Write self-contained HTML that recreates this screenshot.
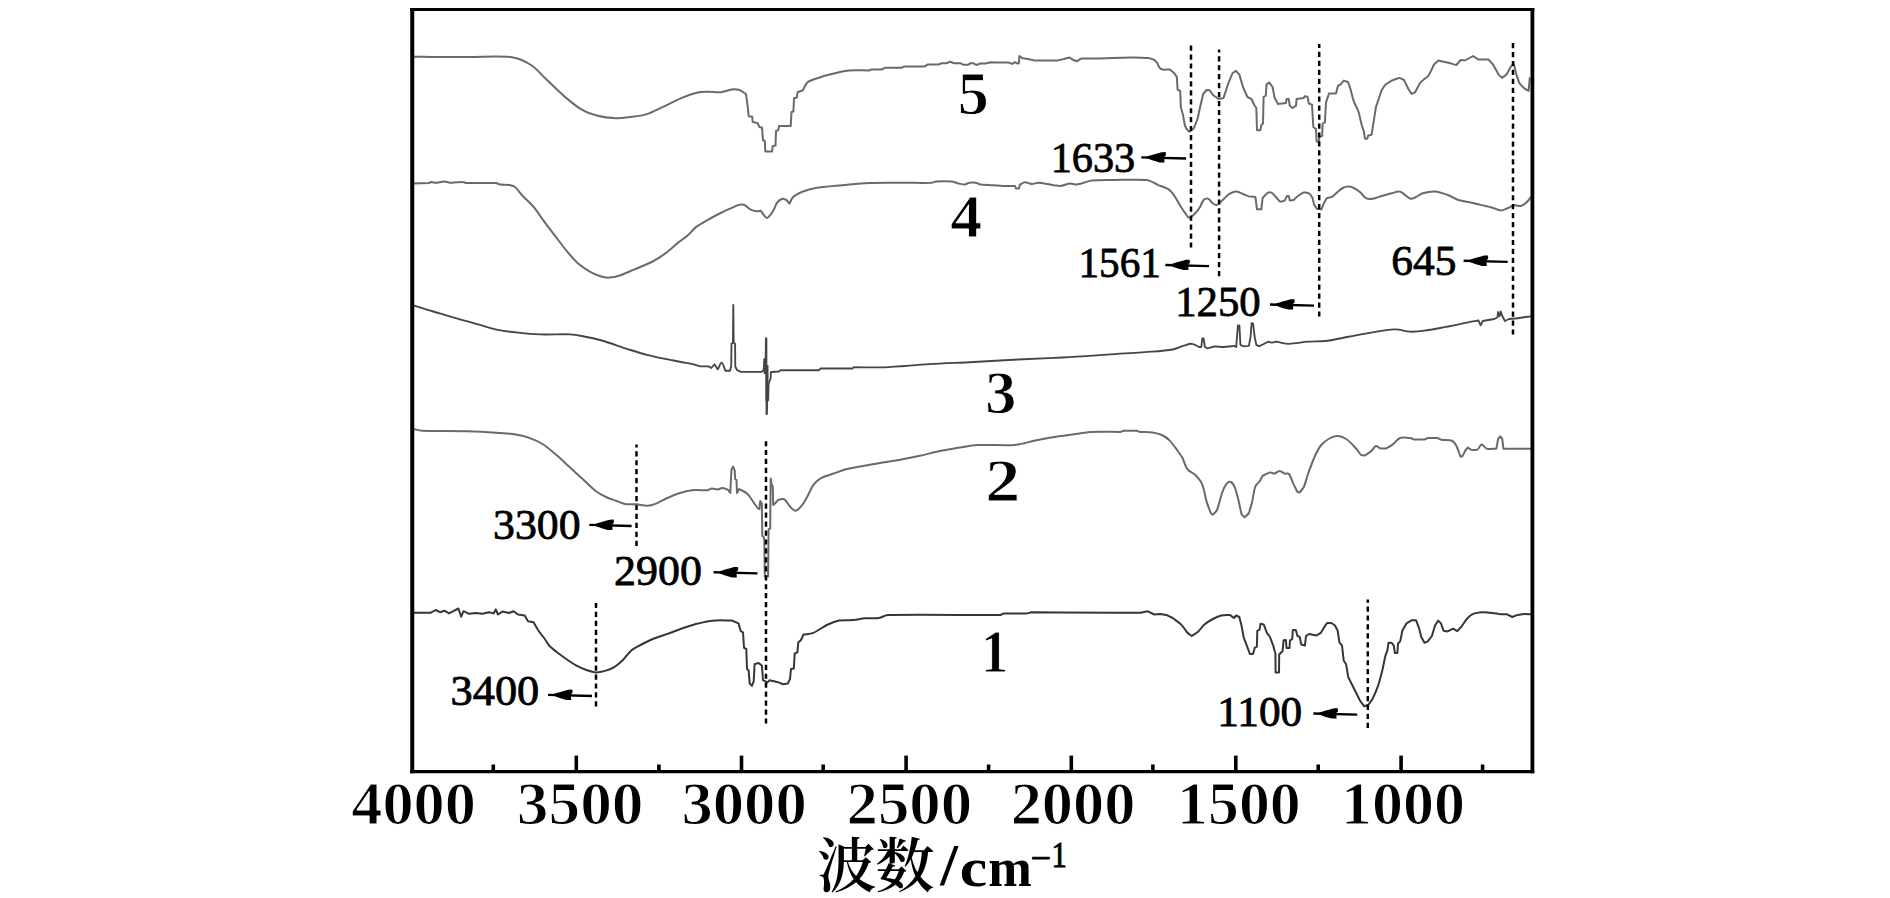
<!DOCTYPE html>
<html lang="zh"><head><meta charset="utf-8"><title>FTIR</title>
<style>html,body{margin:0;padding:0;background:#fff;}body{width:1890px;height:898px;overflow:hidden;}svg{display:block;}</style>
</head><body>
<svg width="1890" height="898" viewBox="0 0 1890 898">
<rect x="0" y="0" width="1890" height="898" fill="#fff"/>
<path id="c5" d="M413.4,56.7C422.3,56.8 431.1,57.0 440.0,57.0C449.4,57.0 460.0,56.9 470.0,56.9C482.0,56.9 501.8,55.9 512.0,57.2C518.8,58.1 525.3,61.3 531.0,65.0C536.8,68.8 541.7,75.0 547.0,80.0C552.8,85.4 559.9,92.6 565.7,97.5C570.8,101.8 576.4,106.6 581.7,109.6C586.7,112.4 592.4,114.3 597.8,115.7C603.0,117.1 608.5,117.9 613.8,118.1C619.1,118.3 624.5,117.6 629.8,117.0C635.1,116.4 640.7,116.0 645.9,114.4C651.2,112.8 656.6,109.9 661.9,107.4C667.7,104.7 674.8,100.8 680.6,98.3C685.8,96.1 692.2,93.8 696.6,92.7C700.1,91.8 703.7,91.8 707.3,91.7C711.3,91.6 716.7,92.6 720.7,92.2C724.4,91.9 728.3,89.9 731.4,89.5C734.1,89.2 737.0,89.2 739.4,90.0C741.8,90.8 743.8,92.7 746.0,94.0L747.4,104.2L748.7,116.2L752.2,116.8L752.7,122.0L757.5,123.0L759.4,127.0L762.0,127.7L763.0,140.3L764.8,141.0L765.3,151.5L772.0,151.5L772.8,146.0L775.5,145.6L776.0,131.0L778.2,130.4L779.0,126.0C782.9,126.0 786.8,126.0 790.7,126.0L791.5,112.0L793.4,111.6L794.0,98.3L796.8,97.5L797.6,92.2L802.9,90.2C804.4,87.6 805.0,84.4 807.3,82.5C809.8,80.5 814.3,79.3 818.0,78.0C821.9,76.6 826.5,75.4 830.8,74.3C835.9,73.0 842.6,71.1 848.6,70.5C855.0,69.9 862.1,70.5 868.9,70.5L871.4,69.5C874.8,69.5 878.2,69.5 881.6,69.5L885.4,67.7C890.9,67.7 896.4,67.7 901.9,67.7L904.4,66.4C911.2,66.4 918.0,66.4 924.8,66.4L927.9,64.4C931.5,64.4 935.1,64.4 938.7,64.4L941.9,63.2L946.3,63.2L950.2,61.8L954.0,63.2L960.3,63.2L963.5,64.8L968.0,64.8L970.5,63.2L973.0,63.2L976.2,65.0L980.6,63.5L985.7,63.5L990.8,62.2L995.9,62.6C1000.1,62.6 1004.4,62.6 1008.6,62.6L1012.4,63.9L1014.9,62.2L1017.5,63.5L1018.9,63.2L1019.3,56.1L1022.6,58.3L1028.0,59.0L1034.9,60.6C1042.3,60.6 1049.6,60.6 1057.0,60.6L1063.8,59.0L1069.4,57.5L1072.7,59.7L1077.0,61.2L1081.6,58.4C1087.5,58.4 1093.5,58.5 1099.4,58.4C1107.6,58.2 1122.4,57.6 1130.6,57.5C1136.5,57.4 1142.5,57.8 1148.4,57.9L1154.0,59.7L1156.7,62.3C1158.1,64.5 1158.8,67.8 1161.0,69.0C1163.2,70.2 1167.0,69.4 1170.0,69.6L1174.3,73.3L1176.8,76.8L1177.6,89.6L1180.2,91.0L1180.8,107.0L1183.0,115.0L1184.8,125.0L1186.3,128.6L1189.0,131.6L1193.7,128.5C1195.0,125.3 1196.2,122.2 1197.5,119.0L1200.4,105.8L1203.2,94.0L1206.5,90.0L1209.7,90.2L1213.0,95.0L1218.5,99.0L1223.5,98.0C1225.1,93.2 1226.8,87.7 1228.3,83.5C1229.6,79.9 1231.2,76.5 1232.6,73.0L1236.0,70.8L1239.4,74.6C1240.6,78.7 1241.7,83.1 1243.0,86.8C1244.2,90.2 1245.9,93.5 1247.3,96.8L1251.4,99.0L1254.7,105.7L1256.3,108.0L1257.0,130.2L1260.3,130.2L1261.4,124.7L1263.0,123.6L1263.6,96.8L1265.8,95.7L1266.5,84.6L1269.0,82.4L1272.5,86.8L1274.7,98.0L1278.0,104.0C1280.7,103.6 1283.3,103.3 1286.0,102.9L1286.6,99.0L1288.8,99.0L1289.7,105.7L1292.6,108.0L1296.0,105.7L1296.6,99.0L1303.7,98.0L1304.8,96.2L1307.5,96.8L1308.8,103.5L1312.0,104.6L1313.3,127.0L1316.0,129.0L1316.6,141.4L1318.8,142.0L1319.3,137.0L1322.2,135.8L1322.6,123.6L1324.9,122.4L1326.0,102.4L1329.0,93.5L1336.0,93.5L1338.0,85.7L1340.4,84.6L1343.8,80.6L1348.0,82.0L1350.5,89.0C1351.6,93.1 1352.5,97.6 1353.8,101.3C1355.0,104.8 1357.1,107.8 1358.3,111.3C1359.6,115.2 1360.5,120.2 1361.6,124.7L1363.8,131.4L1365.0,138.7L1367.2,138.7L1368.3,135.4L1371.6,134.7L1373.9,120.2L1376.0,106.9C1377.1,103.5 1378.3,100.2 1379.4,96.8L1381.6,90.2L1385.0,85.0C1387.2,83.5 1389.3,81.8 1391.7,80.6C1394.1,79.4 1396.9,78.8 1399.5,77.9L1404.0,80.0C1405.5,83.0 1406.9,86.0 1408.4,89.0L1411.7,93.9L1415.0,92.4C1416.9,89.1 1418.4,85.2 1420.6,82.4C1422.7,79.7 1426.3,78.4 1428.4,75.7C1430.6,72.7 1432.1,68.2 1434.0,64.5L1438.4,60.5C1441.8,61.3 1445.5,62.0 1448.5,62.8C1451.1,63.5 1453.7,64.3 1456.3,65.0L1460.7,60.0L1465.0,60.5C1467.7,59.0 1470.3,57.5 1473.0,56.0L1478.5,59.6C1481.9,59.6 1485.2,59.6 1488.6,59.6L1493.0,64.5C1494.9,67.9 1496.7,71.2 1498.6,74.6L1502.0,77.9L1506.4,74.6C1507.9,72.0 1509.3,69.4 1510.8,66.8L1513.7,63.4L1516.4,74.6C1517.5,77.6 1518.2,81.1 1519.7,83.5C1521.1,85.7 1523.4,87.2 1525.3,89.0L1528.6,90.8L1529.8,78.0" fill="none" stroke="#6a6a6a" stroke-width="2.0" stroke-linejoin="round" stroke-linecap="round"/>
<path id="c4" d="M413.4,183.4C418.6,183.3 423.8,183.1 429.0,183.0L431.2,181.9C432.7,182.2 434.1,182.8 435.6,182.8C437.8,182.8 441.9,181.6 444.5,181.6C446.8,181.6 448.9,182.8 451.2,182.8C454.2,182.9 459.8,181.9 462.4,181.9C463.9,181.9 465.3,183.0 466.8,183.0C472.4,183.2 490.2,182.8 495.8,183.0C497.3,183.1 498.7,184.3 500.2,184.5C502.4,184.8 506.6,184.6 509.0,185.0C511.0,185.3 513.1,185.6 514.7,186.8C517.0,188.6 519.8,192.8 522.5,195.7C525.6,199.0 530.2,202.8 533.6,206.8C537.3,211.2 541.1,217.4 544.8,222.4C548.4,227.3 552.2,232.1 555.9,236.9C559.6,241.7 563.3,246.9 567.0,251.4C570.5,255.6 574.5,260.3 578.2,263.6C581.6,266.6 585.6,269.3 589.3,271.4C592.8,273.4 597.0,275.3 600.4,276.3C603.3,277.2 606.4,277.8 609.4,277.6C612.8,277.4 616.9,276.4 620.5,275.2C624.6,273.9 629.4,271.5 633.9,269.6C639.1,267.4 646.5,264.7 651.7,262.0C656.4,259.6 660.8,256.7 665.0,253.6C669.5,250.3 674.7,245.4 678.4,242.4C681.3,240.1 684.5,238.2 687.3,235.8C690.3,233.2 692.9,229.5 696.2,226.9C699.5,224.3 703.5,222.3 707.3,220.2C711.4,217.9 716.2,215.2 720.7,213.0C725.1,210.8 730.6,208.2 734.0,206.8C736.2,205.9 738.9,204.8 740.8,204.6C742.3,204.4 743.9,204.6 745.2,205.3C746.9,206.2 748.9,208.7 750.8,209.7C752.5,210.6 754.6,211.1 756.3,211.3C757.8,211.5 759.3,211.0 760.8,210.8L763.5,214.6C764.7,215.7 765.7,218.2 767.0,218.0C768.3,217.8 770.0,215.0 771.5,213.5L774.2,209.0L776.4,203.5C777.5,202.3 778.6,201.2 779.7,200.0L783.0,198.6L786.4,200.0L789.5,203.5C790.8,201.3 791.5,198.6 793.4,196.8C795.5,194.8 799.1,193.0 802.3,191.7C806.0,190.2 811.0,188.6 815.6,187.9C822.3,186.8 833.5,186.0 842.4,185.2C851.3,184.4 860.1,183.4 869.0,183.0C879.0,182.6 892.1,182.8 902.5,182.8C912.2,182.8 925.9,183.0 931.5,182.8C933.1,182.7 934.4,181.5 936.0,181.4C939.3,181.2 947.8,181.1 951.5,181.4C953.8,181.6 956.0,182.9 958.2,183.4C960.4,183.9 963.0,184.6 964.9,184.5C966.5,184.4 967.7,183.0 969.3,182.8C971.1,182.5 974.1,182.5 976.0,182.8C977.6,183.0 978.8,184.3 980.4,184.5C983.4,184.9 990.1,184.9 993.8,185.2C996.8,185.4 999.7,185.9 1002.7,186.0C1006.2,186.1 1010.9,186.0 1015.0,186.0L1016.0,188.6L1018.8,188.6L1020.0,184.5C1021.7,183.8 1023.2,182.4 1025.0,182.3C1027.0,182.2 1029.5,183.8 1031.7,183.9C1033.9,184.0 1036.1,182.8 1038.4,182.8C1041.0,182.8 1044.7,183.5 1047.3,183.9C1049.5,184.2 1051.8,184.8 1054.0,185.2C1056.2,185.5 1058.4,186.3 1060.6,186.0C1063.2,185.7 1066.9,183.7 1069.5,183.4C1071.8,183.2 1074.2,184.5 1076.2,184.5C1078.1,184.5 1080.0,183.9 1081.8,183.4C1084.4,182.7 1088.3,180.9 1091.8,180.5C1097.2,179.9 1106.6,180.1 1114.0,180.0C1123.2,179.9 1139.4,179.2 1146.7,180.0C1150.7,180.4 1154.1,183.2 1157.8,184.8C1161.5,186.4 1166.2,187.8 1169.0,189.7C1171.3,191.3 1172.9,193.7 1174.5,196.0C1176.5,198.9 1179.1,204.0 1181.0,207.0C1182.5,209.3 1184.3,212.0 1185.7,213.8C1186.8,215.2 1187.7,218.0 1189.4,217.8C1191.1,217.6 1193.9,214.5 1195.7,212.7C1197.4,211.0 1198.8,209.0 1200.0,207.0C1201.3,204.9 1202.2,201.4 1203.5,200.0C1204.6,198.9 1206.5,198.1 1208.0,198.6C1209.5,199.1 1210.9,201.9 1212.4,203.0C1213.7,203.9 1215.3,205.4 1216.8,204.9C1218.6,204.3 1221.5,201.1 1223.5,199.3C1225.4,197.7 1227.0,195.5 1229.0,194.2C1231.0,192.9 1233.6,191.6 1235.8,191.5C1238.0,191.4 1240.2,192.9 1242.4,193.7C1244.6,194.5 1246.8,195.8 1249.0,196.4C1251.1,196.9 1253.3,196.8 1255.4,197.0L1257.0,209.3C1258.5,209.3 1259.9,209.3 1261.4,209.3L1262.5,198.2C1264.0,196.6 1265.5,194.2 1267.0,193.3C1268.3,192.5 1270.0,192.0 1271.4,192.6C1272.9,193.2 1274.4,195.5 1275.9,197.0C1277.4,198.5 1278.8,200.9 1280.3,201.5C1281.7,202.1 1283.3,200.8 1284.8,200.4L1287.0,196.0L1288.8,196.0L1289.7,200.4L1293.7,200.0C1295.1,198.7 1296.4,197.2 1298.0,196.0C1299.7,194.8 1301.8,193.0 1303.7,192.6C1305.6,192.2 1307.8,192.8 1309.3,193.7C1310.8,194.6 1311.5,196.7 1312.6,198.2L1314.2,204.9L1317.0,208.9C1318.5,209.0 1320.0,209.2 1321.5,209.3L1323.7,203.7C1324.8,201.9 1325.7,199.3 1327.0,198.2C1328.2,197.2 1330.1,197.8 1331.5,197.0C1333.2,196.1 1335.2,194.1 1337.0,192.6C1338.9,191.1 1340.8,189.0 1342.7,188.0C1344.4,187.1 1346.4,186.6 1348.2,186.6C1350.0,186.6 1352.1,187.2 1353.8,188.0C1355.8,189.0 1358.5,190.9 1360.5,192.6C1362.5,194.3 1364.0,197.2 1366.0,198.2C1368.0,199.2 1370.5,199.1 1372.7,198.8C1375.3,198.4 1378.6,196.9 1381.6,196.0C1384.8,195.1 1388.7,194.1 1391.7,193.3C1394.3,192.6 1397.3,191.2 1399.5,191.5C1401.6,191.7 1403.2,193.6 1405.0,194.8C1406.8,196.0 1408.8,198.4 1410.6,198.8C1412.4,199.2 1414.3,197.8 1416.0,197.0C1418.0,196.1 1420.3,194.0 1422.8,193.3C1426.0,192.4 1430.9,191.2 1435.0,191.5C1439.1,191.8 1443.4,193.4 1447.3,194.8C1451.2,196.2 1454.8,198.8 1458.5,200.0C1462.1,201.2 1465.9,201.4 1469.6,202.2C1473.3,203.0 1477.0,204.0 1480.7,204.9C1484.4,205.8 1488.6,206.6 1491.9,207.5C1494.9,208.3 1498.2,210.3 1500.8,210.4C1503.1,210.5 1505.3,209.0 1507.5,208.2C1509.7,207.3 1512.0,205.7 1514.2,205.3C1516.4,204.9 1518.8,206.4 1520.8,206.0C1522.8,205.6 1524.8,204.1 1526.4,202.6C1528.1,201.1 1529.4,198.9 1530.9,197.0" fill="none" stroke="#6a6a6a" stroke-width="2.0" stroke-linejoin="round" stroke-linecap="round"/>
<path id="c3" d="M413.4,305.3C420.1,307.4 426.7,309.5 433.4,311.5C440.4,313.6 448.3,316.1 455.7,318.2C463.1,320.3 470.9,322.5 478.0,324.4C484.7,326.2 491.3,328.4 498.0,329.8C504.6,331.2 511.3,332.0 518.0,332.7C525.0,333.5 532.8,334.2 540.3,334.4C549.0,334.7 563.1,334.0 570.0,334.3C573.9,334.5 577.8,335.2 581.7,336.0C587.0,337.0 595.2,338.6 601.8,340.5C609.3,342.6 619.3,346.4 626.8,348.8C633.5,350.9 640.1,353.1 646.9,354.8C654.7,356.8 665.8,358.9 673.6,360.5C680.2,361.9 686.9,363.0 693.6,364.3L700.3,366.4C703.1,366.4 705.9,366.4 708.7,366.4L711.2,368.0L714.5,364.3L717.8,369.4C719.1,367.2 720.4,362.5 721.7,362.7C723.0,362.9 724.2,368.0 725.4,370.7L730.0,370.7L731.2,366.0L731.5,343.5L732.9,343.0L733.3,305.0L733.7,343.0L735.1,343.8L735.3,366.5L737.0,370.2L741.2,371.9C747.9,371.9 754.6,371.9 761.3,371.9L763.6,370.5L764.4,359.0L765.7,358.5L765.9,338.2L766.4,338.2L766.5,414.0L766.9,414.0L767.2,401.0L768.2,400.0L768.6,383.6L770.6,378.5L770.9,372.0C773.5,371.8 776.2,371.7 778.8,371.5L780.5,370.2C793.3,370.2 806.1,370.2 818.9,370.2L820.6,368.5C831.2,368.5 841.7,368.5 852.3,368.5L854.0,367.2C864.2,367.2 874.3,367.7 884.5,367.3C897.0,366.8 914.2,365.1 929.0,364.2C943.9,363.3 958.8,362.8 973.6,362.0C988.4,361.2 1003.2,360.2 1018.0,359.5C1032.8,358.8 1047.8,358.3 1062.7,357.5C1077.6,356.7 1092.5,355.6 1107.3,354.6C1122.1,353.6 1140.9,352.6 1151.8,351.7C1158.8,351.2 1167.5,350.5 1172.7,349.5C1176.4,348.8 1180.1,346.8 1183.3,345.9C1186.1,345.1 1189.1,343.6 1191.7,343.8C1194.3,344.0 1196.6,345.9 1199.0,347.0L1201.3,347.0L1202.3,338.5L1203.6,338.5L1204.9,347.0L1207.6,348.4C1210.1,347.8 1212.5,346.7 1215.0,346.5C1217.7,346.3 1220.7,347.1 1223.5,347.0C1226.7,346.9 1230.5,346.3 1234.0,345.9L1236.2,347.0L1237.9,325.4L1239.4,325.4L1240.4,344.8L1243.6,346.3L1248.9,345.9L1250.6,336.4L1251.6,323.0L1253.1,323.6L1254.6,336.4L1256.3,344.8L1259.5,346.3C1262.3,344.8 1265.1,343.2 1267.9,341.7L1272.0,342.7L1276.4,341.7C1280.6,342.4 1284.7,343.8 1289.0,343.8C1294.3,343.8 1302.0,342.2 1308.0,341.7C1313.7,341.3 1319.7,341.5 1325.0,341.0C1330.0,340.5 1334.9,339.4 1339.9,338.5C1345.9,337.4 1353.9,335.5 1361.0,334.3C1369.5,332.8 1384.3,330.4 1390.6,329.6C1393.4,329.3 1396.2,329.3 1399.0,329.6C1402.2,330.0 1406.1,331.5 1409.7,331.7C1414.0,331.9 1419.6,331.4 1424.5,330.7C1430.5,329.9 1438.7,328.2 1445.7,326.9C1452.7,325.6 1461.3,323.7 1466.8,322.6C1470.7,321.8 1474.6,321.2 1478.5,320.5L1480.6,325.4L1482.7,321.0C1486.6,320.3 1490.4,319.7 1494.3,319.0L1497.5,317.3L1498.0,312.0L1499.6,316.3L1500.7,311.4L1502.4,316.3L1504.9,321.0L1509.0,319.0C1512.6,318.7 1516.2,318.4 1519.7,318.0C1523.2,317.6 1526.8,316.9 1530.3,316.3" fill="none" stroke="#464646" stroke-width="1.85" stroke-linejoin="round" stroke-linecap="round"/>
<path id="c2" d="M413.4,429.0C416.4,429.6 419.3,430.6 422.3,430.7C431.2,431.1 454.6,430.9 466.8,431.2C476.5,431.5 487.6,432.1 495.8,432.7C502.5,433.1 510.2,433.6 515.8,434.5C520.4,435.2 524.9,436.4 529.2,437.9C533.7,439.5 538.4,441.4 542.5,444.0C547.0,446.8 551.6,450.9 555.9,454.6C560.4,458.4 564.8,462.7 569.3,466.8C573.7,470.9 578.2,474.9 582.6,479.0C587.1,483.1 591.9,488.2 596.0,491.3C599.4,493.8 603.7,495.9 607.0,497.5C609.9,498.9 613.0,499.6 616.0,500.7C619.0,501.8 621.9,503.4 625.0,504.0C628.3,504.6 632.3,503.9 636.0,504.2C639.7,504.5 643.9,505.9 647.2,505.8C650.2,505.7 653.2,504.7 656.0,503.6C659.4,502.3 663.6,499.7 667.3,498.0C670.9,496.4 674.6,494.7 678.4,493.5C682.5,492.2 687.2,490.7 691.8,490.2C696.6,489.6 704.0,490.5 707.3,490.2C708.9,490.1 710.2,488.7 711.8,488.6C713.5,488.5 716.0,489.6 717.8,489.5C719.4,489.4 720.7,488.0 722.3,488.0C724.0,488.0 726.0,489.1 727.9,489.7L730.3,493.0L730.9,480.0L731.5,469.5L733.1,466.6L734.7,470.3L735.2,479.2L736.5,480.0L737.0,493.0L739.2,489.0C741.9,490.6 745.0,491.7 747.3,493.8C749.7,496.1 752.0,500.3 753.8,502.7C755.1,504.6 756.5,506.4 757.8,508.3L759.4,509.0L760.2,501.0L761.8,503.5L762.3,535.8L763.5,536.6L764.3,540.0L764.8,576.5L768.1,576.5L768.6,529.3L770.2,528.5L770.7,478.4L771.5,484.0L772.8,486.5L773.2,505.0L775.6,502.7L778.8,499.4C780.7,499.4 782.9,498.4 784.5,499.4C786.4,500.6 788.2,504.8 790.1,506.7C791.7,508.3 793.8,511.0 795.8,510.7C797.8,510.4 800.4,507.2 802.2,505.0C804.2,502.4 806.1,498.6 807.9,495.4C809.8,492.0 811.4,487.5 813.6,484.6C815.7,481.9 818.4,479.6 821.4,477.9C824.7,476.0 829.5,474.9 833.6,473.5C837.9,472.0 842.6,470.2 847.0,469.0C851.3,467.9 855.7,467.3 860.0,466.5C865.5,465.5 873.3,464.1 880.0,463.0C886.7,461.9 893.4,460.9 900.0,459.7C906.7,458.5 913.4,457.2 920.0,455.8C926.6,454.4 933.4,452.3 939.7,451.0C945.8,449.7 951.9,448.8 958.0,447.8C964.4,446.8 971.1,445.3 977.8,445.0C987.2,444.5 1004.8,445.7 1014.3,445.0C1021.3,444.5 1028.1,442.0 1035.0,440.6C1042.4,439.2 1051.9,437.4 1058.7,436.3C1064.4,435.4 1070.7,434.7 1076.0,434.0C1080.8,433.3 1085.6,432.1 1090.5,431.9C1097.9,431.5 1110.6,431.9 1120.6,431.9L1123.8,430.8C1128.0,430.8 1132.3,430.8 1136.5,430.8L1139.7,431.9C1143.9,432.1 1148.7,431.9 1152.4,432.4C1155.7,432.9 1159.0,433.6 1161.9,435.0C1164.8,436.4 1167.5,438.3 1169.8,440.6C1172.4,443.3 1175.7,448.1 1177.8,451.0C1179.5,453.3 1181.2,455.5 1182.5,458.0C1184.1,461.0 1185.2,466.4 1187.3,469.2C1189.2,471.8 1192.9,472.5 1195.2,474.8C1197.7,477.4 1200.7,480.9 1202.3,484.6C1204.2,489.1 1205.2,496.8 1206.6,501.6C1207.8,505.5 1209.4,509.3 1210.8,513.2L1212.9,514.7C1214.3,513.1 1216.2,511.9 1217.0,510.0C1218.6,506.2 1220.8,496.4 1222.4,492.0C1223.5,489.0 1225.3,485.3 1226.7,483.6C1227.7,482.5 1229.6,481.3 1230.9,482.0C1232.3,482.7 1234.1,485.6 1235.0,487.8C1236.2,490.7 1237.3,495.6 1238.3,499.5C1239.4,503.9 1240.4,509.4 1241.5,514.3L1244.6,517.4C1246.0,516.0 1247.5,514.6 1248.9,513.2L1252.0,502.6C1253.1,497.3 1254.0,490.3 1255.2,486.8C1256.0,484.7 1258.1,483.3 1259.5,481.5L1262.6,475.8C1265.1,474.7 1268.0,472.8 1270.0,472.4C1271.5,472.1 1272.8,473.8 1274.3,473.6C1275.9,473.4 1277.8,470.9 1279.6,470.9C1281.3,470.9 1283.2,473.1 1284.8,473.6C1286.1,474.0 1288.1,472.9 1289.0,474.0C1290.4,475.7 1291.9,480.6 1293.3,483.6C1294.6,486.4 1296.1,489.2 1297.5,492.0L1299.6,492.6C1301.0,490.7 1302.9,489.0 1303.9,486.8C1305.3,483.7 1306.5,478.2 1308.0,474.0C1309.8,469.0 1312.4,461.8 1314.5,457.0C1316.3,453.0 1318.3,448.6 1320.8,445.5C1323.1,442.6 1326.5,440.1 1329.3,438.5C1331.8,437.1 1334.9,435.9 1337.7,436.0C1340.5,436.1 1343.7,437.4 1346.2,439.0C1349.0,440.8 1352.2,444.3 1354.7,447.0C1357.0,449.5 1358.9,452.3 1361.0,455.0L1365.0,455.4C1367.2,453.9 1369.8,452.4 1371.6,450.8C1373.2,449.4 1374.4,446.4 1375.8,446.0C1377.2,445.6 1378.5,447.9 1380.0,448.2C1381.8,448.6 1384.4,448.8 1386.4,448.2C1388.5,447.6 1390.8,445.9 1392.8,444.4C1395.1,442.7 1397.0,439.1 1400.0,438.0C1403.0,436.9 1407.1,438.0 1410.7,438.0L1414.0,439.6C1417.5,439.6 1421.0,439.6 1424.5,439.6L1427.7,438.0C1430.9,438.0 1434.9,437.7 1437.2,438.0C1438.7,438.2 1439.9,439.5 1441.4,439.8C1443.9,440.3 1449.5,439.9 1452.0,440.8C1454.0,441.6 1455.2,443.6 1456.2,445.5C1457.6,448.1 1459.1,453.0 1460.5,456.7L1462.6,456.0C1463.7,453.9 1464.7,451.8 1465.8,449.7L1467.9,447.6L1471.0,449.7C1473.1,449.7 1475.6,450.6 1477.4,449.7C1479.2,448.8 1480.0,444.6 1481.6,444.4C1483.2,444.2 1484.7,448.1 1486.9,448.7C1489.4,449.4 1493.2,448.7 1496.4,448.7L1498.1,439.0L1500.2,436.4L1502.3,439.0L1503.4,448.7C1512.4,448.7 1521.3,448.7 1530.3,448.7" fill="none" stroke="#6a6a6a" stroke-width="2.0" stroke-linejoin="round" stroke-linecap="round"/>
<path id="c1" d="M413.4,612.7C419.3,612.7 425.1,612.7 431.0,612.7L435.6,610.0L440.0,612.2L444.5,610.7L449.0,613.4L453.4,611.2L458.4,608.5L461.2,616.7L463.5,611.2L469.0,613.8L475.7,613.0L482.4,613.8L489.0,612.3L493.5,613.4L495.8,609.4L498.0,614.5L502.4,611.6L509.0,613.0L513.6,611.2L518.0,614.5L524.7,615.6L528.0,621.2L533.6,622.3C535.1,624.9 536.4,627.5 538.0,630.0C539.9,632.8 542.9,636.4 544.8,639.0C546.4,641.2 547.4,643.7 549.2,645.7C551.1,647.8 553.6,649.5 555.9,651.3C558.5,653.3 561.8,655.9 564.8,658.0C568.1,660.3 572.3,663.3 576.0,665.3C579.5,667.2 583.7,669.0 587.0,670.2C589.9,671.2 593.0,672.3 596.0,672.4C599.0,672.5 602.1,671.7 605.0,670.9C608.0,670.0 611.1,668.9 613.8,667.3C616.8,665.5 620.0,662.8 622.7,660.2C625.7,657.4 628.6,652.7 631.6,650.2C634.2,648.0 637.5,646.6 640.5,645.0C643.9,643.2 647.9,641.1 651.7,639.5C656.2,637.6 662.1,635.8 667.3,633.9C673.6,631.6 682.1,628.2 689.5,626.0C696.8,623.8 704.8,621.7 711.8,620.8C718.4,619.9 725.1,620.6 731.8,620.5L738.5,623.4L740.8,631.2L743.0,632.3L744.0,647.9L746.3,649.0L747.0,669.0L748.6,670.2L749.7,683.6L751.9,685.8L753.7,681.3L754.6,664.2L758.6,662.9L761.9,665.7L763.0,680.2L767.5,682.4L769.7,680.2C772.7,680.9 775.6,681.7 778.6,682.4L783.0,684.2L787.8,683.6L790.0,679.0L791.0,669.0L793.8,668.6L794.7,653.5L797.4,652.4L798.3,642.4L801.0,640.0L803.4,634.6C806.7,634.0 810.3,634.1 813.4,632.8C817.5,631.1 823.6,626.5 827.9,624.5C831.4,622.8 835.1,621.2 839.0,620.5C843.3,619.8 849.2,620.4 853.5,620.0C857.2,619.7 860.9,618.6 864.6,618.3C868.9,617.9 875.1,618.4 879.0,617.9C882.1,617.5 884.8,615.1 888.0,615.0C908.2,614.5 963.0,615.0 1000.5,615.0L1003.8,613.4C1011.5,613.4 1019.3,613.4 1027.0,613.4L1031.7,612.3C1059.1,612.4 1095.8,612.6 1114.0,612.7C1122.9,612.7 1131.9,612.7 1140.8,612.7L1147.5,611.2L1154.2,614.5L1160.0,613.9L1166.3,614.9L1172.7,618.0C1175.5,620.1 1178.5,621.9 1181.0,624.4C1183.5,626.9 1185.3,630.1 1187.5,632.9L1191.7,636.0C1193.8,634.6 1196.1,633.5 1198.0,631.8C1200.1,629.9 1201.9,626.5 1204.4,624.4C1206.9,622.3 1210.1,620.5 1212.9,619.0C1215.6,617.6 1218.6,616.2 1221.4,615.5C1224.1,614.8 1227.0,615.1 1229.8,614.9L1234.0,618.0L1236.2,615.5L1239.3,617.0L1241.5,625.5L1243.6,637.0C1244.7,639.9 1245.7,642.7 1246.8,645.6L1249.9,654.0L1253.0,654.0L1254.8,647.7L1256.9,646.6L1257.3,630.8L1259.5,629.7L1260.5,623.8L1263.7,624.4C1264.8,627.2 1265.8,630.1 1266.9,632.9L1270.0,637.0C1271.1,639.9 1272.1,642.7 1273.2,645.6L1274.8,651.5L1275.4,653.0L1275.6,672.6L1279.0,672.6L1279.2,654.5L1282.6,651.0L1283.6,640.3L1285.9,639.9L1286.5,648.0L1289.5,648.0L1290.0,640.3L1292.2,639.2L1292.9,630.0L1295.8,630.0L1297.5,636.0L1299.6,636.7L1301.3,644.5L1304.9,645.6L1306.0,636.0L1309.0,634.0C1311.5,634.5 1314.1,634.9 1316.6,635.4L1320.8,632.9L1324.0,627.6L1327.0,623.0L1331.4,623.0L1335.0,625.5L1337.7,630.8L1339.4,642.4L1342.0,645.6L1343.7,660.4L1346.2,664.6L1348.3,677.3C1350.4,681.5 1352.8,686.1 1354.7,690.0C1356.5,693.5 1358.2,697.1 1360.0,700.6L1364.2,706.3L1368.4,704.8C1369.8,702.7 1371.6,700.8 1372.7,698.5C1374.3,695.3 1376.5,690.1 1378.0,685.8C1379.6,681.2 1380.8,675.9 1382.2,671.0L1385.3,656.2L1387.5,649.8L1388.5,642.8L1391.7,642.8L1393.8,645.6L1394.9,653.0L1397.4,653.0L1398.0,643.5L1400.2,641.4L1402.3,630.8C1403.7,628.3 1405.1,625.9 1406.5,623.4L1411.8,620.2L1416.0,620.2C1417.1,623.0 1418.1,625.9 1419.2,628.7L1421.3,637.0L1424.5,642.8L1427.7,641.4L1431.9,636.0L1435.0,625.5L1438.2,620.6L1441.0,623.4L1443.5,630.8L1447.8,631.4L1453.0,628.7L1457.3,631.2L1461.5,626.5C1463.3,624.0 1464.9,621.1 1466.8,619.0C1468.6,617.0 1470.6,615.0 1473.0,613.9C1475.5,612.8 1478.8,612.4 1481.6,612.2C1484.4,612.0 1487.2,612.5 1490.0,612.8C1492.8,613.1 1495.8,613.6 1498.6,613.9C1501.4,614.1 1504.2,614.2 1507.0,614.3L1512.3,617.0L1517.6,614.9L1524.0,613.9L1530.3,614.3" fill="none" stroke="#363636" stroke-width="2.0" stroke-linejoin="round" stroke-linecap="round"/>
<path d="M765.2,359 L765.2,374 M767,365 L767,401" fill="none" stroke="#444" stroke-width="3"/>
<path d="M410.2,9.45 H1534.3" stroke="#000" stroke-width="2.9" fill="none"/>
<path d="M410.2,771.6 H1534.3" stroke="#000" stroke-width="3.4" fill="none"/>
<path d="M412.25,8 V773.3" stroke="#000" stroke-width="4.0" fill="none"/>
<path d="M1532.4,8 V773.3" stroke="#000" stroke-width="3.8" fill="none"/>
<line x1="576.3" y1="755.6" x2="576.3" y2="771.5" stroke="#000" stroke-width="3.6"/>
<line x1="741.5" y1="755.6" x2="741.5" y2="771.5" stroke="#000" stroke-width="3.6"/>
<line x1="906.1" y1="755.6" x2="906.1" y2="771.5" stroke="#000" stroke-width="3.6"/>
<line x1="1071.3" y1="755.6" x2="1071.3" y2="771.5" stroke="#000" stroke-width="3.6"/>
<line x1="1235.8" y1="755.6" x2="1235.8" y2="771.5" stroke="#000" stroke-width="3.6"/>
<line x1="1401.1" y1="755.6" x2="1401.1" y2="771.5" stroke="#000" stroke-width="3.6"/>
<line x1="493.3" y1="764.5" x2="493.3" y2="771.5" stroke="#000" stroke-width="3.6"/>
<line x1="658.9" y1="764.5" x2="658.9" y2="771.5" stroke="#000" stroke-width="3.6"/>
<line x1="823.2" y1="764.5" x2="823.2" y2="771.5" stroke="#000" stroke-width="3.6"/>
<line x1="988.6" y1="764.5" x2="988.6" y2="771.5" stroke="#000" stroke-width="3.6"/>
<line x1="1152.9" y1="764.5" x2="1152.9" y2="771.5" stroke="#000" stroke-width="3.6"/>
<line x1="1318.2" y1="764.5" x2="1318.2" y2="771.5" stroke="#000" stroke-width="3.6"/>
<line x1="1482.6" y1="764.5" x2="1482.6" y2="771.5" stroke="#000" stroke-width="3.6"/>
<line x1="1191" y1="247.6" x2="1191" y2="45.2" stroke="#000" stroke-width="2.5" stroke-dasharray="5.2 3.75"/>
<line x1="1219.1" y1="276.2" x2="1219.1" y2="49.6" stroke="#000" stroke-width="2.5" stroke-dasharray="5.2 3.75"/>
<line x1="1319.2" y1="316.6" x2="1319.2" y2="44" stroke="#000" stroke-width="2.5" stroke-dasharray="5.2 3.75"/>
<line x1="1513" y1="334.6" x2="1513" y2="42.8" stroke="#000" stroke-width="2.5" stroke-dasharray="5.2 3.75"/>
<line x1="636.5" y1="545.9" x2="636.5" y2="444.5" stroke="#000" stroke-width="2.5" stroke-dasharray="5.2 3.75"/>
<line x1="766" y1="723.6" x2="766" y2="441.2" stroke="#000" stroke-width="2.5" stroke-dasharray="5.2 3.75"/>
<line x1="596" y1="706.5" x2="596" y2="603" stroke="#000" stroke-width="2.5" stroke-dasharray="5.2 3.75"/>
<line x1="1367.8" y1="728" x2="1367.8" y2="599.5" stroke="#000" stroke-width="2.5" stroke-dasharray="5.2 3.75"/>
<line x1="1141.3" y1="157.4" x2="1186.1" y2="158.5" stroke="#000" stroke-width="2.4"/><polygon points="1146.0,157.2 1148.2,156.1 1153.7,154.4 1158.7,153.1 1161.7,152.2 1165.7,152.1 1165.9,155.3 1164.3,156.7 1164.3,159.3 1164.5,162.5 1159.7,162.5 1153.7,160.8 1148.2,158.8" fill="#000"/>
<line x1="1165.3" y1="265.0" x2="1209" y2="266.1" stroke="#000" stroke-width="2.4"/><polygon points="1170.0,264.8 1172.2,263.7 1177.7,262.0 1182.7,260.7 1185.7,259.8 1189.7,259.7 1189.9,262.9 1188.3,264.3 1188.3,266.9 1188.5,270.1 1183.7,270.1 1177.7,268.4 1172.2,266.4" fill="#000"/>
<line x1="1270" y1="304.5" x2="1314" y2="305.6" stroke="#000" stroke-width="2.4"/><polygon points="1274.7,304.3 1276.9,303.2 1282.4,301.5 1287.4,300.2 1290.4,299.3 1294.4,299.2 1294.6,302.4 1293.0,303.8 1293.0,306.4 1293.2,309.6 1288.4,309.6 1282.4,307.9 1276.9,305.9" fill="#000"/>
<line x1="1463.6" y1="260.8" x2="1507.7" y2="261.90000000000003" stroke="#000" stroke-width="2.4"/><polygon points="1468.3,260.6 1470.5,259.5 1476.0,257.8 1481.0,256.5 1484.0,255.6 1488.0,255.5 1488.2,258.7 1486.6,260.1 1486.6,262.7 1486.8,265.9 1482.0,265.9 1476.0,264.2 1470.5,262.2" fill="#000"/>
<line x1="589.3" y1="524.9" x2="631.6" y2="526.0" stroke="#000" stroke-width="2.4"/><polygon points="594.0,524.7 596.2,523.6 601.7,521.9 606.7,520.6 609.7,519.7 613.7,519.6 613.9,522.8 612.3,524.2 612.3,526.8 612.5,530.0 607.7,530.0 601.7,528.3 596.2,526.3" fill="#000"/>
<line x1="713.6" y1="572.3" x2="757.5" y2="573.4" stroke="#000" stroke-width="2.4"/><polygon points="718.3,572.1 720.5,571.0 726.0,569.3 731.0,568.0 734.0,567.1 738.0,567.0 738.2,570.2 736.6,571.6 736.6,574.2 736.8,577.4 732.0,577.4 726.0,575.7 720.5,573.7" fill="#000"/>
<line x1="548" y1="694.9" x2="592" y2="696.0" stroke="#000" stroke-width="2.4"/><polygon points="552.7,694.7 554.9,693.6 560.4,691.9 565.4,690.6 568.4,689.7 572.4,689.6 572.6,692.8 571.0,694.2 571.0,696.8 571.2,700.0 566.4,700.0 560.4,698.3 554.9,696.3" fill="#000"/>
<line x1="1313.4" y1="713.5" x2="1357.2" y2="714.6" stroke="#000" stroke-width="2.4"/><polygon points="1318.1,713.3 1320.3,712.2 1325.8,710.5 1330.8,709.2 1333.8,708.3 1337.8,708.2 1338.0,711.4 1336.4,712.8 1336.4,715.4 1336.6,718.6 1331.8,718.6 1325.8,716.9 1320.3,714.9" fill="#000"/>
<text transform="translate(1050.68,171.55) scale(0.9973,1)" font-family="'Liberation Serif', serif" font-size="42.4" fill="#000" stroke="#000" stroke-width="0.8" stroke-linejoin="round">1633</text>
<text transform="translate(1078.48,277.34999999999997) scale(0.9716,1)" font-family="'Liberation Serif', serif" font-size="42.4" fill="#000" stroke="#000" stroke-width="0.8" stroke-linejoin="round">1561</text>
<text transform="translate(1175.24,315.54999999999995) scale(1.0081,1)" font-family="'Liberation Serif', serif" font-size="42.4" fill="#000" stroke="#000" stroke-width="0.8" stroke-linejoin="round">1250</text>
<text transform="translate(1391.33,275.25) scale(1.0246,1)" font-family="'Liberation Serif', serif" font-size="42.4" fill="#000" stroke="#000" stroke-width="0.8" stroke-linejoin="round">645</text>
<text transform="translate(493.00,538.65) scale(1.0326,1)" font-family="'Liberation Serif', serif" font-size="42.4" fill="#000" stroke="#000" stroke-width="0.8" stroke-linejoin="round">3300</text>
<text transform="translate(614.07,584.55) scale(1.0366,1)" font-family="'Liberation Serif', serif" font-size="42.4" fill="#000" stroke="#000" stroke-width="0.8" stroke-linejoin="round">2900</text>
<text transform="translate(450.58,705.05) scale(1.0461,1)" font-family="'Liberation Serif', serif" font-size="42.4" fill="#000" stroke="#000" stroke-width="0.8" stroke-linejoin="round">3400</text>
<text transform="translate(1217.19,725.75) scale(1.0219,1)" font-family="'Liberation Serif', serif" font-size="42.4" fill="#000" stroke="#000" stroke-width="0.8" stroke-linejoin="round">1100</text>
<text transform="translate(957.87,114.1) scale(1.0213,1)" font-family="'Liberation Serif', serif" font-weight="bold" font-size="60.6" fill="#000" stroke="#fff" stroke-width="0.9" stroke-linejoin="round">5</text>
<text transform="translate(950.18,237.3) scale(1.0513,1)" font-family="'Liberation Serif', serif" font-weight="bold" font-size="60.6" fill="#000" stroke="#fff" stroke-width="0.9" stroke-linejoin="round">4</text>
<text transform="translate(985.21,413.1) scale(1.0250,1)" font-family="'Liberation Serif', serif" font-weight="bold" font-size="60.6" fill="#000" stroke="#fff" stroke-width="0.9" stroke-linejoin="round">3</text>
<text transform="translate(985.22,500.6) scale(1.1530,1)" font-family="'Liberation Serif', serif" font-weight="bold" font-size="60.6" fill="#000" stroke="#fff" stroke-width="0.9" stroke-linejoin="round">2</text>
<text transform="translate(981.22,672.2) scale(0.8919,1)" font-family="'Liberation Serif', serif" font-weight="bold" font-size="60.6" fill="#000" stroke="#fff" stroke-width="0.9" stroke-linejoin="round">1</text>
<text transform="translate(351.25,823.7) scale(1.0215,1)" font-family="'Liberation Serif', serif" font-weight="bold" font-size="61.0" fill="#000" stroke="#fff" stroke-width="1.2" stroke-linejoin="round">4000</text>
<text transform="translate(516.82,823.7) scale(1.0385,1)" font-family="'Liberation Serif', serif" font-weight="bold" font-size="61.0" fill="#000" stroke="#fff" stroke-width="1.2" stroke-linejoin="round">3500</text>
<text transform="translate(681.44,823.7) scale(1.0274,1)" font-family="'Liberation Serif', serif" font-weight="bold" font-size="61.0" fill="#000" stroke="#fff" stroke-width="1.2" stroke-linejoin="round">3000</text>
<text transform="translate(846.56,823.7) scale(1.0298,1)" font-family="'Liberation Serif', serif" font-weight="bold" font-size="61.0" fill="#000" stroke="#fff" stroke-width="1.2" stroke-linejoin="round">2500</text>
<text transform="translate(1010.68,823.7) scale(1.0221,1)" font-family="'Liberation Serif', serif" font-weight="bold" font-size="61.0" fill="#000" stroke="#fff" stroke-width="1.2" stroke-linejoin="round">2000</text>
<text transform="translate(1177.05,823.7) scale(1.0140,1)" font-family="'Liberation Serif', serif" font-weight="bold" font-size="61.0" fill="#000" stroke="#fff" stroke-width="1.2" stroke-linejoin="round">1500</text>
<text transform="translate(1341.03,823.7) scale(1.0166,1)" font-family="'Liberation Serif', serif" font-weight="bold" font-size="61.0" fill="#000" stroke="#fff" stroke-width="1.2" stroke-linejoin="round">1000</text>
<text font-family="'Liberation Serif', 'Noto Serif CJK SC', serif" font-weight="bold" fill="#000"><tspan x="817.0" y="886.8" font-size="59.2" font-weight="600">波</tspan><tspan x="875.2" y="886.8" font-size="59.2" font-weight="600">数</tspan><tspan x="940.32" y="885.1" font-size="60" textLength="17.72" lengthAdjust="spacingAndGlyphs">/</tspan><tspan x="959.79" y="885.5" font-size="54.5" textLength="27.45" lengthAdjust="spacingAndGlyphs">c</tspan><tspan x="988.29" y="885.9" font-size="54.5" textLength="43.60" lengthAdjust="spacingAndGlyphs">m</tspan><tspan x="1030.71" y="869.6" font-size="35" font-weight="normal" stroke="#000" stroke-width="1.0" textLength="20.24" lengthAdjust="spacingAndGlyphs">−</tspan><tspan x="1051.50" y="866.8" font-size="34.8" font-weight="normal" stroke="#000" stroke-width="1.0" textLength="15.34" lengthAdjust="spacingAndGlyphs">1</tspan></text>
</svg>
</body></html>
